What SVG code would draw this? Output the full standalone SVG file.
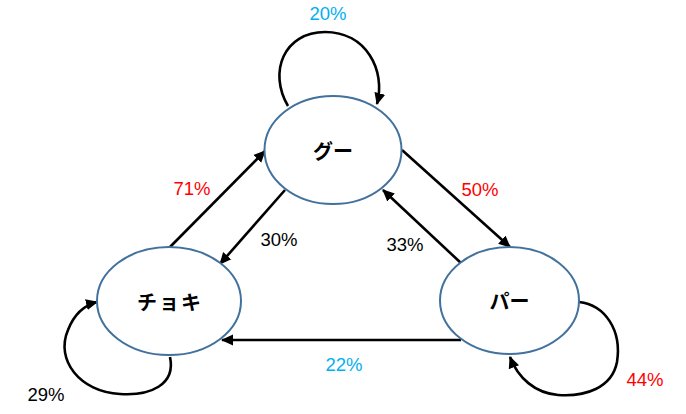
<svg xmlns="http://www.w3.org/2000/svg" width="686" height="414" viewBox="0 0 686 414">
<style>
.node{fill:#fff;stroke:#41719C;stroke-width:2}
.lbl{font-family:"Noto Sans CJK JP","Noto Sans",sans-serif;font-weight:bold;font-size:20px;text-anchor:middle;dominant-baseline:central;fill:#000}
.e{fill:none;stroke:#000;stroke-width:2.6;marker-end:url(#ah)}
.p{font-family:"Liberation Sans",Arial,sans-serif;font-size:18.5px;text-anchor:middle;dominant-baseline:central}
.r{fill:#FF0000}.b{fill:#00B0F0}.k{fill:#000}
</style>
<defs>
<marker id="ah" markerWidth="12" markerHeight="12" viewBox="0 0 12 11" refX="11" refY="5.5" orient="auto" markerUnits="userSpaceOnUse">
<path d="M0,0 L12,5.5 L0,11 z" fill="#000"/>
</marker>
</defs>
<g id="connectors">
<path class="e" d="M288,106 C268,72 284,32 325,32 C366,32 386,70 377,104"/>
<path class="e" d="M402,150 L510,247"/>
<path class="e" d="M462,264 L383,190"/>
<path class="e" d="M170,247 L265,151"/>
<path class="e" d="M285,190 L220,264"/>
<path class="e" d="M461,340 L222,340"/>
<path class="e" d="M170,357 C176,385 150,396 120,394 C80,392 55,360 68,330 C75,312 85,305 97,302"/>
<path class="e" d="M579,302 C605,305 622,330 617,362 C612,388 585,397 558,395 C535,393 518,378 510,357"/>
</g>
<g id="goo"><ellipse class="node" cx="333" cy="150" rx="68.5" ry="54"/><text class="lbl" x="333" y="150">グー</text></g>
<g id="choki"><ellipse class="node" cx="169" cy="301" rx="72" ry="54"/><text class="lbl" x="170" y="301" letter-spacing="2">チョキ</text></g>
<g id="paa"><ellipse class="node" cx="509.5" cy="300.5" rx="69.5" ry="53.5"/><text class="lbl" x="509.5" y="300.5">パー</text></g>
<g id="labels">
<text class="p b" x="328" y="13">20%</text>
<text class="p r" x="192" y="188">71%</text>
<text class="p k" x="279" y="239">30%</text>
<text class="p r" x="480" y="189">50%</text>
<text class="p k" x="405" y="244">33%</text>
<text class="p b" x="344" y="364">22%</text>
<text class="p k" x="46" y="394">29%</text>
<text class="p r" x="645" y="379">44%</text>
</g>
</svg>
